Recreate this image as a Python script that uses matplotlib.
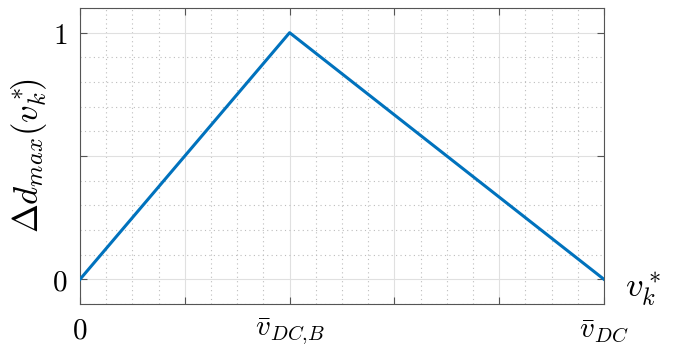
import matplotlib
matplotlib.use("Agg")
import matplotlib.pyplot as plt
import numpy as np
from matplotlib.ticker import MultipleLocator

plt.rcParams['mathtext.fontset'] = 'cm'

# triangle profile: 0 at origin, 1 at v_DC,B, 0 at v_DC
v_points = [0.0, 1.0, 2.5]
d_points = [0.0, 1.0, 0.0]

x_tick_pos = [0.0, 1.0, 2.5]
x_tick_labels = [r'$0$', r'$\bar{v}_{DC{,}B}$', r'$\bar{v}_{DC}$']
y_tick_pos = [0.0, 1.0]
y_tick_labels = [r'$0$', r'$1$']

fig = plt.figure(figsize=(6.81, 3.46), dpi=100)
ax = fig.add_axes([80 / 681, 1 - 304 / 346, 524 / 681, 296 / 346])

ax.plot(v_points, d_points, color=(0, 0.447, 0.741), lw=2.2, zorder=3)

ax.set_xlim(0, 2.5)
ax.set_ylim(-0.1, 1.1)

# grid: major every 0.5, minor dotted
ax.xaxis.set_major_locator(MultipleLocator(0.5))
ax.yaxis.set_major_locator(MultipleLocator(0.5))
ax.xaxis.set_minor_locator(MultipleLocator(0.125))
ax.yaxis.set_minor_locator(MultipleLocator(0.1))
ax.grid(which='major', color='#e0e0e0', lw=0.8, ls='-')
ax.grid(which='minor', color='#bdbdbd', lw=0.8, ls=(0, (1, 3)))
ax.tick_params(which='minor', length=0)
ax.tick_params(which='major', direction='in', length=5, color='#555555',
               top=True, right=True, labelsize=21, pad=9)

# labels only at selected positions
fig.canvas.draw()
xt = ax.get_xticks()
ax.set_xticks(xt)
ax.set_xticklabels([x_tick_labels[x_tick_pos.index(t)] if t in x_tick_pos else '' for t in xt])
yt = ax.get_yticks()
ax.set_yticks(yt)
ax.set_yticklabels([y_tick_labels[y_tick_pos.index(t)] if t in y_tick_pos else '' for t in yt])
ax.set_xlim(0, 2.5)
ax.set_ylim(-0.1, 1.1)

for s in ax.spines.values():
    s.set_color('#555555')
    s.set_linewidth(0.8)

ax.set_ylabel(r'$\Delta d_{max}(v_k^*\!\!)$', fontsize=25, labelpad=2)
ax.text(1.04, 0.05, r'$v_k^*$', transform=ax.transAxes, fontsize=25,
        ha='left', va='center')

fig.savefig('out.png', dpi=100)
